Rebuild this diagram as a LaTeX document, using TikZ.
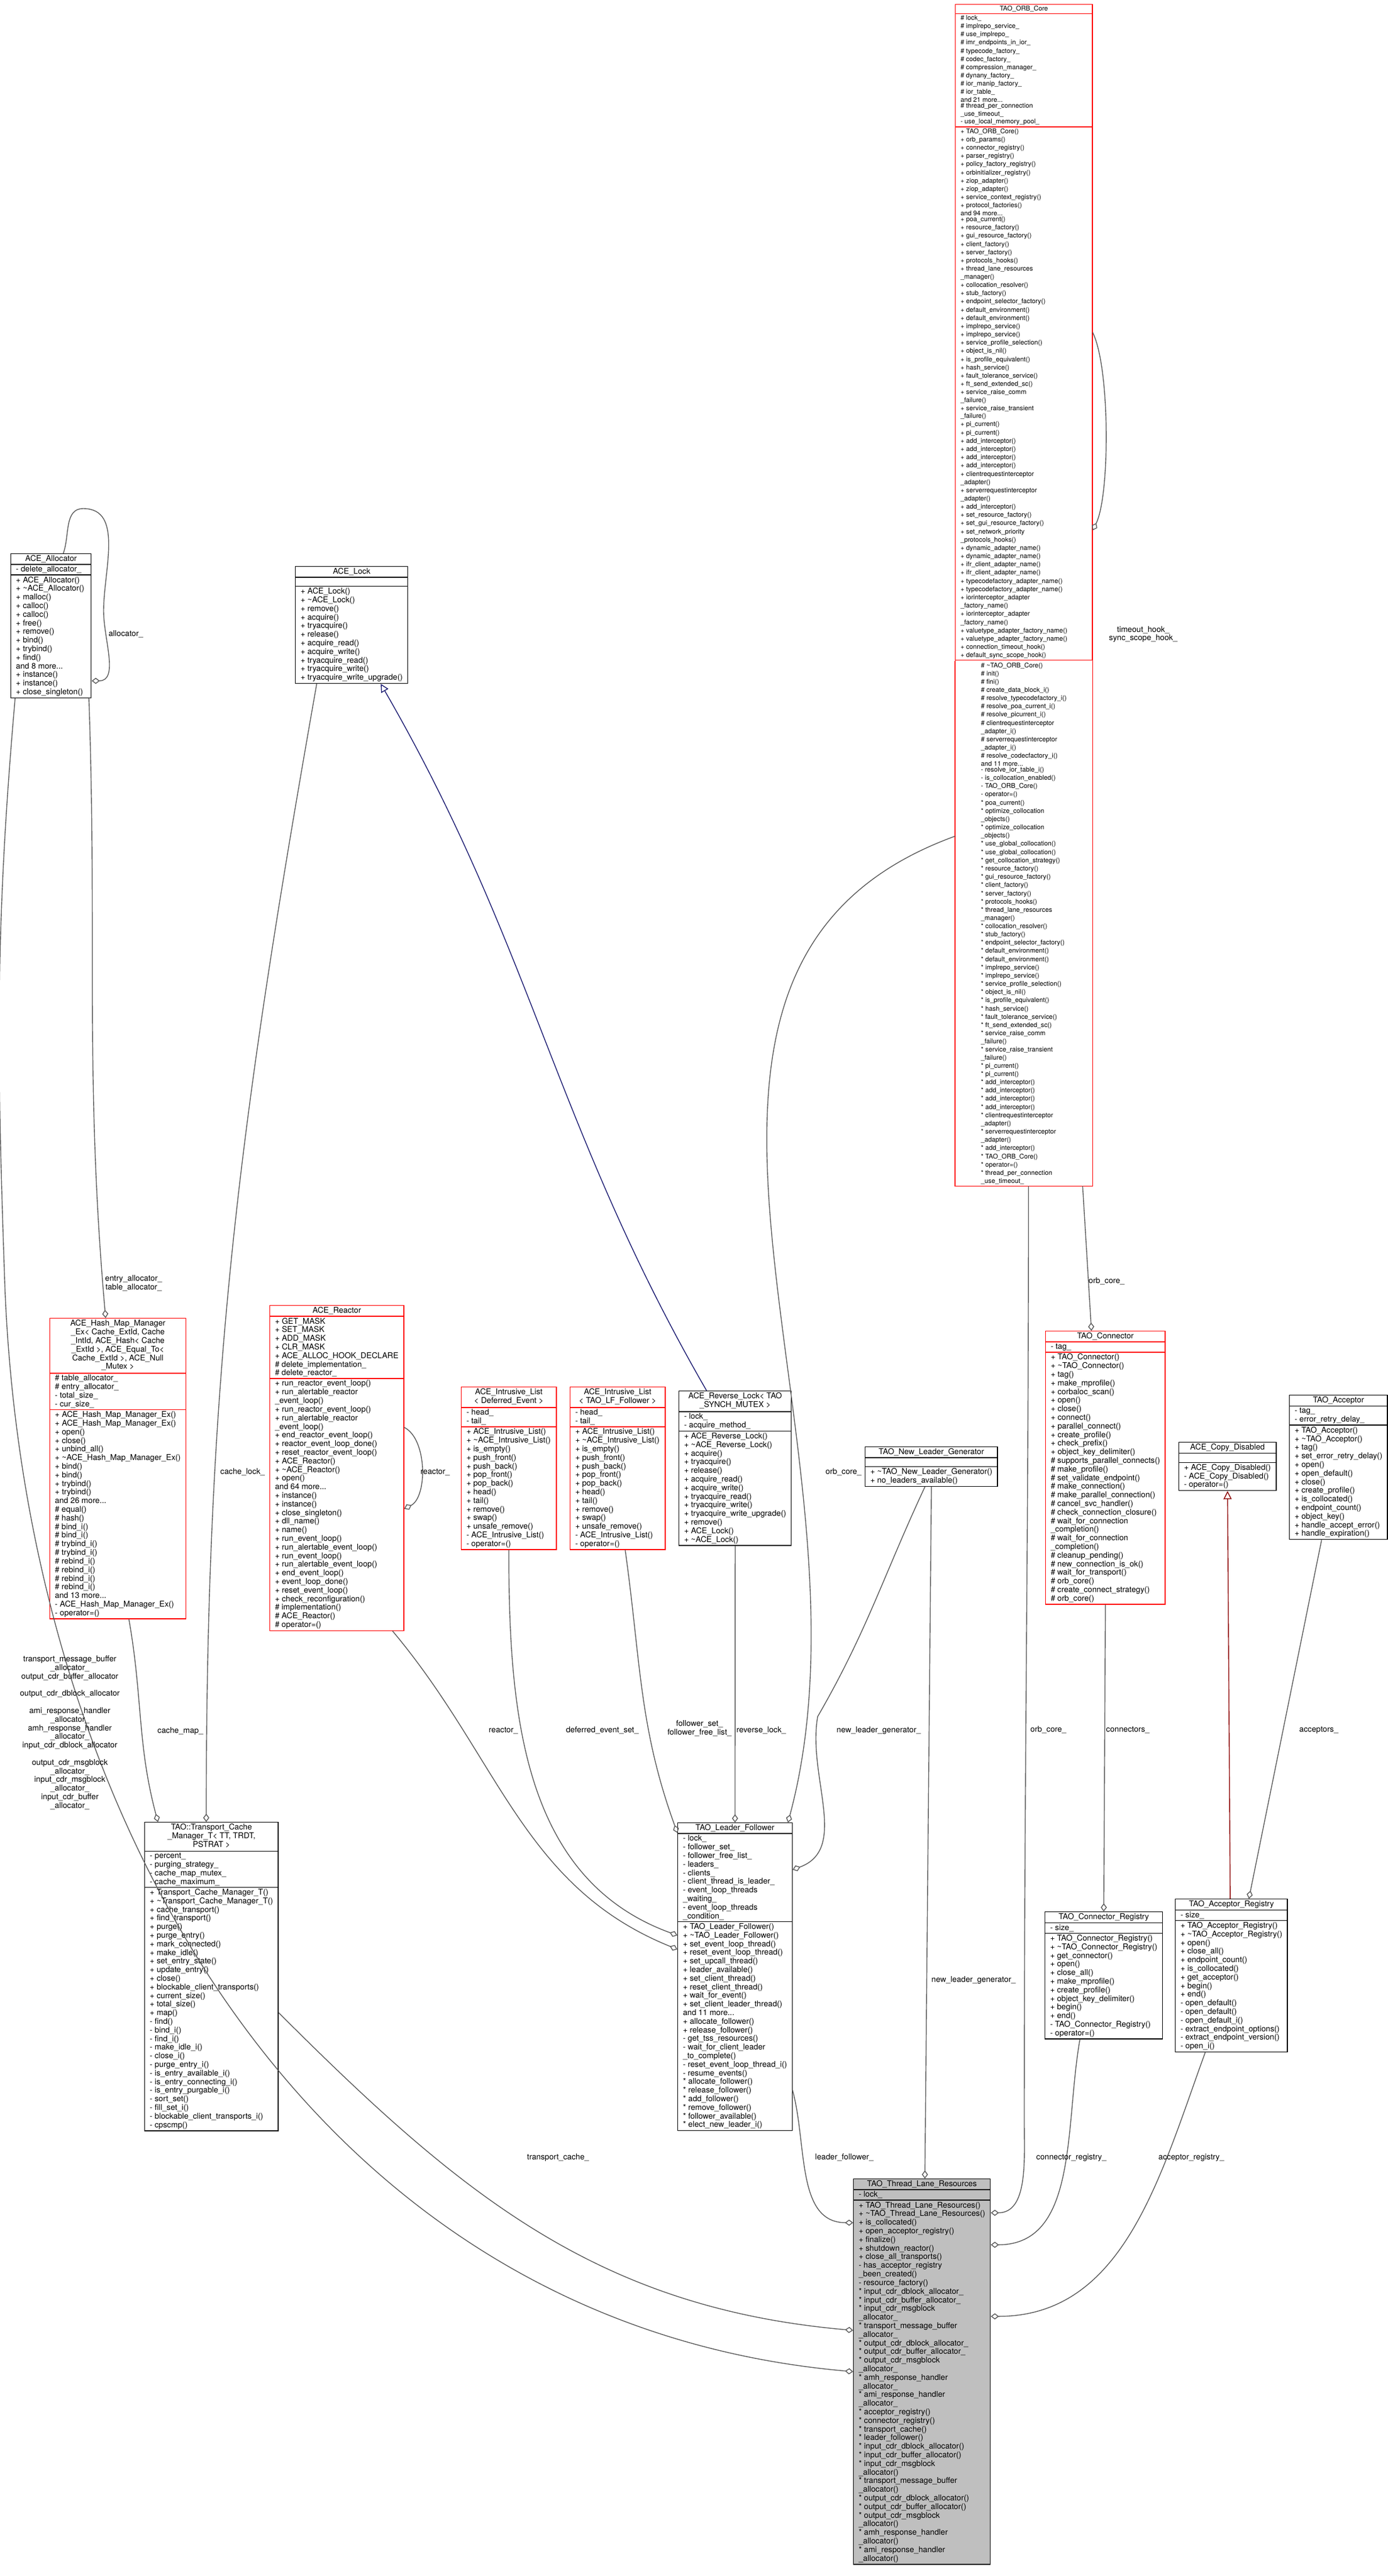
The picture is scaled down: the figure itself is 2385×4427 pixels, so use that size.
\documentclass[tikz,border=0pt]{standalone}
\usepackage{fontspec}
\setmainfont{TeX Gyre Heros}
\usetikzlibrary{arrows.meta,calc,shapes.multipart}
\newcommand{\dg}{\fontsize{3.9pt}{4.21pt}\selectfont}
\newcommand{\orbf}{\fontsize{3.2pt}{2.74pt}\selectfont}
\newcommand{\ctr}[1]{\begin{tabular}{@{}c@{}}#1\end{tabular}}
\newcommand{\tl}{\textasciitilde}
\definecolor{lanegray}{HTML}{BFBFBF}
\definecolor{inhblue}{HTML}{191970}
\definecolor{inhred}{HTML}{8B0000}

\begin{document}
\begin{tikzpicture}[x=0.01cm,y=-0.01cm,
    cls/.style={rectangle split,rectangle split parts=3,draw=black,fill=white,
      anchor=north west,align=left,inner xsep=2.5pt,inner ysep=0.6pt,
      rectangle split part align={center,left,left},font=\dg},
    trunc/.style={cls,draw=red},
    more/.style={anchor=north west,align=left,inner xsep=2.5pt,inner ysep=0.6pt,font=\dg},
    has/.style={draw=black!65,-{Diamond[open,length=4pt,width=3pt]}},
    inh/.style={draw=inhblue,-{Triangle[open,length=4pt,width=4pt]}},
    inhr/.style={draw=inhred,-{Triangle[open,length=4pt,width=4pt]}},
    lbl/.style={font=\dg,align=center,inner sep=0pt}]
  \useasboundingbox (0,0) rectangle (2385,4427);

  \node[cls,minimum width=1.38cm] (alloc) at (18,951) {ACE\_Allocator
    \nodepart{two}- delete\_allocator\_
    \nodepart{three}+ ACE\_Allocator()\\+ \tl ACE\_Allocator()\\+ malloc()\\+ calloc()\\+ calloc()\\+ free()\\+ remove()\\+ bind()\\+ trybind()\\+ find()\\and 8 more...\\+ instance()\\+ instance()\\+ close\_singleton()};

  \node[cls,minimum width=1.88cm] (lock) at (507,973) {ACE\_Lock
    \nodepart{two}\phantom{X}
    \nodepart{three}+ ACE\_Lock()\\+ \tl ACE\_Lock()\\+ remove()\\+ acquire()\\+ tryacquire()\\+ release()\\+ acquire\_read()\\+ acquire\_write()\\+ tryacquire\_read()\\+ tryacquire\_write()\\+ tryacquire\_write\_upgrade()};

  \node[trunc,font=\orbf,minimum width=2.35cm] (orbcore) at (1641,7) {TAO\_ORB\_Core
    \nodepart{two}\# lock\_\\\# implrepo\_service\_\\\# use\_implrepo\_\\\# imr\_endpoints\_in\_ior\_\\\# typecode\_factory\_\\\# codec\_factory\_\\\# compression\_manager\_\\\# dynany\_factory\_\\\# ior\_manip\_factory\_\\\# ior\_table\_\\and 21 more...\\\# thread\_per\_connection\\\_use\_timeout\_\\- use\_local\_memory\_pool\_
    \nodepart{three}+ TAO\_ORB\_Core()\\+ orb\_params()\\+ connector\_registry()\\+ parser\_registry()\\+ policy\_factory\_registry()\\+ orbinitializer\_registry()\\+ ziop\_adapter()\\+ ziop\_adapter()\\+ service\_context\_registry()\\+ protocol\_factories()\\and 94 more...\\+ poa\_current()\\+ resource\_factory()\\+ gui\_resource\_factory()\\+ client\_factory()\\+ server\_factory()\\+ protocols\_hooks()\\+ thread\_lane\_resources\\\_manager()\\+ collocation\_resolver()\\+ stub\_factory()\\+ endpoint\_selector\_factory()\\+ default\_environment()\\+ default\_environment()\\+ implrepo\_service()\\+ implrepo\_service()\\+ service\_profile\_selection()\\+ object\_is\_nil()\\+ is\_profile\_equivalent()\\+ hash\_service()\\+ fault\_tolerance\_service()\\+ ft\_send\_extended\_sc()\\+ service\_raise\_comm\\\_failure()\\+ service\_raise\_transient\\\_failure()\\+ pi\_current()\\+ pi\_current()\\+ add\_interceptor()\\+ add\_interceptor()\\+ add\_interceptor()\\+ add\_interceptor()\\+ clientrequestinterceptor\\\_adapter()\\+ serverrequestinterceptor\\\_adapter()\\+ add\_interceptor()\\+ set\_resource\_factory()\\+ set\_gui\_resource\_factory()\\+ set\_network\_priority\\\_protocols\_hooks()\\+ dynamic\_adapter\_name()\\+ dynamic\_adapter\_name()\\+ ifr\_client\_adapter\_name()\\+ ifr\_client\_adapter\_name()\\+ typecodefactory\_adapter\_name()\\+ typecodefactory\_adapter\_name()\\+ iorinterceptor\_adapter\\\_factory\_name()\\+ iorinterceptor\_adapter\\\_factory\_name()\\+ valuetype\_adapter\_factory\_name()\\+ valuetype\_adapter\_factory\_name()\\+ connection\_timeout\_hook()\\+ default\_sync\_scope\_hook()};
  \node[more,font=\orbf,minimum width=2.35cm] (orbmore) at (orbcore.south west) {\# \tl TAO\_ORB\_Core()\\\# init()\\\# fini()\\\# create\_data\_block\_i()\\\# resolve\_typecodefactory\_i()\\\# resolve\_poa\_current\_i()\\\# resolve\_picurrent\_i()\\\# clientrequestinterceptor\\\_adapter\_i()\\\# serverrequestinterceptor\\\_adapter\_i()\\\# resolve\_codecfactory\_i()\\and 11 more...\\- resolve\_ior\_table\_i()\\- is\_collocation\_enabled()\\- TAO\_ORB\_Core()\\- operator=()\\{*} poa\_current()\\{*} optimize\_collocation\\\_objects()\\{*} optimize\_collocation\\\_objects()\\{*} use\_global\_collocation()\\{*} use\_global\_collocation()\\{*} get\_collocation\_strategy()\\{*} resource\_factory()\\{*} gui\_resource\_factory()\\{*} client\_factory()\\{*} server\_factory()\\{*} protocols\_hooks()\\{*} thread\_lane\_resources\\\_manager()\\{*} collocation\_resolver()\\{*} stub\_factory()\\{*} endpoint\_selector\_factory()\\{*} default\_environment()\\{*} default\_environment()\\{*} implrepo\_service()\\{*} implrepo\_service()\\{*} service\_profile\_selection()\\{*} object\_is\_nil()\\{*} is\_profile\_equivalent()\\{*} hash\_service()\\{*} fault\_tolerance\_service()\\{*} ft\_send\_extended\_sc()\\{*} service\_raise\_comm\\\_failure()\\{*} service\_raise\_transient\\\_failure()\\{*} pi\_current()\\{*} pi\_current()\\{*} add\_interceptor()\\{*} add\_interceptor()\\{*} add\_interceptor()\\{*} add\_interceptor()\\{*} clientrequestinterceptor\\\_adapter()\\{*} serverrequestinterceptor\\\_adapter()\\{*} add\_interceptor()\\{*} TAO\_ORB\_Core()\\{*} operator=()\\{*} thread\_per\_connection\\\_use\_timeout\_};
  \fill[white] ($(orbcore.south west)+(1,-1)$) rectangle ($(orbcore.south east)+(-1,1)$);
  \draw[red] (orbmore.north west) |- (orbmore.south east) -- (orbmore.north east);

  \node[trunc,minimum width=2.28cm] (hashmap) at (85,2265) {\ctr{ACE\_Hash\_Map\_Manager\\\_Ex< Cache\_ExtId, Cache\\\_IntId, ACE\_Hash< Cache\\\_ExtId >, ACE\_Equal\_To<\\ Cache\_ExtId >, ACE\_Null\\\_Mutex >}
    \nodepart{two}\# table\_allocator\_\\\# entry\_allocator\_\\- total\_size\_\\- cur\_size\_
    \nodepart{three}+ ACE\_Hash\_Map\_Manager\_Ex()\\+ ACE\_Hash\_Map\_Manager\_Ex()\\+ open()\\+ close()\\+ unbind\_all()\\+ \tl ACE\_Hash\_Map\_Manager\_Ex()\\+ bind()\\+ bind()\\+ trybind()\\+ trybind()\\and 26 more...\\\# equal()\\\# hash()\\\# bind\_i()\\\# bind\_i()\\\# trybind\_i()\\\# trybind\_i()\\\# rebind\_i()\\\# rebind\_i()\\\# rebind\_i()\\\# rebind\_i()\\and 13 more...\\- ACE\_Hash\_Map\_Manager\_Ex()\\- operator=()};

  \node[trunc,minimum width=2.30cm] (reactor) at (463,2243) {ACE\_Reactor
    \nodepart{two}+ GET\_MASK\\+ SET\_MASK\\+ ADD\_MASK\\+ CLR\_MASK\\+ ACE\_ALLOC\_HOOK\_DECLARE\\\# delete\_implementation\_\\\# delete\_reactor\_
    \nodepart{three}+ run\_reactor\_event\_loop()\\+ run\_alertable\_reactor\\\_event\_loop()\\+ run\_reactor\_event\_loop()\\+ run\_alertable\_reactor\\\_event\_loop()\\+ end\_reactor\_event\_loop()\\+ reactor\_event\_loop\_done()\\+ reset\_reactor\_event\_loop()\\+ ACE\_Reactor()\\+ \tl ACE\_Reactor()\\+ open()\\and 64 more...\\+ instance()\\+ instance()\\+ close\_singleton()\\+ dll\_name()\\+ name()\\+ run\_event\_loop()\\+ run\_alertable\_event\_loop()\\+ run\_event\_loop()\\+ run\_alertable\_event\_loop()\\+ end\_event\_loop()\\+ event\_loop\_done()\\+ reset\_event\_loop()\\+ check\_reconfiguration()\\\# implementation()\\\# ACE\_Reactor()\\\# operator=()};

  \node[trunc,minimum width=1.63cm] (deflist) at (792,2383) {\ctr{ACE\_Intrusive\_List\\< Deferred\_Event >}
    \nodepart{two}- head\_\\- tail\_
    \nodepart{three}+ ACE\_Intrusive\_List()\\+ \tl ACE\_Intrusive\_List()\\+ is\_empty()\\+ push\_front()\\+ push\_back()\\+ pop\_front()\\+ pop\_back()\\+ head()\\+ tail()\\+ remove()\\+ swap()\\+ unsafe\_remove()\\- ACE\_Intrusive\_List()\\- operator=()};

  \node[trunc,minimum width=1.63cm] (lflist) at (979,2383) {\ctr{ACE\_Intrusive\_List\\< TAO\_LF\_Follower >}
    \nodepart{two}- head\_\\- tail\_
    \nodepart{three}+ ACE\_Intrusive\_List()\\+ \tl ACE\_Intrusive\_List()\\+ is\_empty()\\+ push\_front()\\+ push\_back()\\+ pop\_front()\\+ pop\_back()\\+ head()\\+ tail()\\+ remove()\\+ swap()\\+ unsafe\_remove()\\- ACE\_Intrusive\_List()\\- operator=()};

  \node[cls,minimum width=1.86cm] (revlock) at (1166,2390) {\ctr{ACE\_Reverse\_Lock< TAO\\\_SYNCH\_MUTEX >}
    \nodepart{two}- lock\_\\- acquire\_method\_
    \nodepart{three}+ ACE\_Reverse\_Lock()\\+ \tl ACE\_Reverse\_Lock()\\+ acquire()\\+ tryacquire()\\+ release()\\+ acquire\_read()\\+ acquire\_write()\\+ tryacquire\_read()\\+ tryacquire\_write()\\+ tryacquire\_write\_upgrade()\\+ remove()\\+ ACE\_Lock()\\+ \tl ACE\_Lock()};

  \node[cls,minimum width=2.21cm] (nlg) at (1486,2486) {TAO\_New\_Leader\_Generator
    \nodepart{two}\phantom{X}
    \nodepart{three}+ \tl TAO\_New\_Leader\_Generator()\\+ no\_leaders\_available()};

  \node[trunc,minimum width=1.99cm] (connector) at (1796,2287) {TAO\_Connector
    \nodepart{two}- tag\_
    \nodepart{three}+ TAO\_Connector()\\+ \tl TAO\_Connector()\\+ tag()\\+ make\_mprofile()\\+ corbaloc\_scan()\\+ open()\\+ close()\\+ connect()\\+ parallel\_connect()\\+ create\_profile()\\+ check\_prefix()\\+ object\_key\_delimiter()\\\# supports\_parallel\_connects()\\\# make\_profile()\\\# set\_validate\_endpoint()\\\# make\_connection()\\\# make\_parallel\_connection()\\\# cancel\_svc\_handler()\\\# check\_connection\_closure()\\\# wait\_for\_connection\\\_completion()\\\# wait\_for\_connection\\\_completion()\\\# cleanup\_pending()\\\# new\_connection\_is\_ok()\\\# wait\_for\_transport()\\\# orb\_core()\\\# create\_connect\_strategy()\\\# orb\_core()};

  \node[cls,minimum width=1.67cm] (copydis) at (2025,2478) {ACE\_Copy\_Disabled
    \nodepart{two}\phantom{X}
    \nodepart{three}+ ACE\_Copy\_Disabled()\\- ACE\_Copy\_Disabled()\\- operator=()};

  \node[cls,minimum width=1.65cm] (acceptor) at (2215,2397) {TAO\_Acceptor
    \nodepart{two}- tag\_\\- error\_retry\_delay\_
    \nodepart{three}+ TAO\_Acceptor()\\+ \tl TAO\_Acceptor()\\+ tag()\\+ set\_error\_retry\_delay()\\+ open()\\+ open\_default()\\+ close()\\+ create\_profile()\\+ is\_collocated()\\+ endpoint\_count()\\+ object\_key()\\+ handle\_accept\_error()\\+ handle\_expiration()};

  \node[cls,minimum width=2.25cm] (tcm) at (248,3131) {\ctr{TAO::Transport\_Cache\\\_Manager\_T< TT, TRDT,\\ PSTRAT >}
    \nodepart{two}- percent\_\\- purging\_strategy\_\\- cache\_map\_mutex\_\\- cache\_maximum\_
    \nodepart{three}+ Transport\_Cache\_Manager\_T()\\+ \tl Transport\_Cache\_Manager\_T()\\+ cache\_transport()\\+ find\_transport()\\+ purge()\\+ purge\_entry()\\+ mark\_connected()\\+ make\_idle()\\+ set\_entry\_state()\\+ update\_entry()\\+ close()\\+ blockable\_client\_transports()\\+ current\_size()\\+ total\_size()\\+ map()\\- find()\\- bind\_i()\\- find\_i()\\- make\_idle\_i()\\- close\_i()\\- purge\_entry\_i()\\- is\_entry\_available\_i()\\- is\_entry\_connecting\_i()\\- is\_entry\_purgable\_i()\\- sort\_set()\\- fill\_set\_i()\\- blockable\_client\_transports\_i()\\- cpscmp()};

  \node[cls,minimum width=1.91cm] (lf) at (1164,3132) {TAO\_Leader\_Follower
    \nodepart{two}- lock\_\\- follower\_set\_\\- follower\_free\_list\_\\- leaders\_\\- clients\_\\- client\_thread\_is\_leader\_\\- event\_loop\_threads\\\_waiting\_\\- event\_loop\_threads\\\_condition\_
    \nodepart{three}+ TAO\_Leader\_Follower()\\+ \tl TAO\_Leader\_Follower()\\+ set\_event\_loop\_thread()\\+ reset\_event\_loop\_thread()\\+ set\_upcall\_thread()\\+ leader\_available()\\+ set\_client\_thread()\\+ reset\_client\_thread()\\+ wait\_for\_event()\\+ set\_client\_leader\_thread()\\and 11 more...\\+ allocate\_follower()\\+ release\_follower()\\- get\_tss\_resources()\\- wait\_for\_client\_leader\\\_to\_complete()\\- reset\_event\_loop\_thread\_i()\\- resume\_events()\\{*} allocate\_follower()\\{*} release\_follower()\\{*} add\_follower()\\{*} remove\_follower()\\{*} follower\_available()\\{*} elect\_new\_leader\_i()};

  \node[cls,minimum width=2.00cm] (connreg) at (1795,3285) {TAO\_Connector\_Registry
    \nodepart{two}- size\_
    \nodepart{three}+ TAO\_Connector\_Registry()\\+ \tl TAO\_Connector\_Registry()\\+ get\_connector()\\+ open()\\+ close\_all()\\+ make\_mprofile()\\+ create\_profile()\\+ object\_key\_delimiter()\\+ begin()\\+ end()\\- TAO\_Connector\_Registry()\\- operator=()};

  \node[cls,minimum width=1.92cm] (accreg) at (2019,3263) {TAO\_Acceptor\_Registry
    \nodepart{two}- size\_
    \nodepart{three}+ TAO\_Acceptor\_Registry()\\+ \tl TAO\_Acceptor\_Registry()\\+ open()\\+ close\_all()\\+ endpoint\_count()\\+ is\_collocated()\\+ get\_acceptor()\\+ begin()\\+ end()\\- open\_default()\\- open\_default()\\- open\_default\_i()\\- extract\_endpoint\_options()\\- extract\_endpoint\_version()\\- open\_i()};

  \node[cls,fill=lanegray,minimum width=2.30cm] (tlr) at (1466,3744) {TAO\_Thread\_Lane\_Resources
    \nodepart{two}- lock\_
    \nodepart{three}+ TAO\_Thread\_Lane\_Resources()\\+ \tl TAO\_Thread\_Lane\_Resources()\\+ is\_collocated()\\+ open\_acceptor\_registry()\\+ finalize()\\+ shutdown\_reactor()\\+ close\_all\_transports()\\- has\_acceptor\_registry\\\_been\_created()\\- resource\_factory()\\{*} input\_cdr\_dblock\_allocator\_\\{*} input\_cdr\_buffer\_allocator\_\\{*} input\_cdr\_msgblock\\\_allocator\_\\{*} transport\_message\_buffer\\\_allocator\_\\{*} output\_cdr\_dblock\_allocator\_\\{*} output\_cdr\_buffer\_allocator\_\\{*} output\_cdr\_msgblock\\\_allocator\_\\{*} amh\_response\_handler\\\_allocator\_\\{*} ami\_response\_handler\\\_allocator\_\\{*} acceptor\_registry()\\{*} connector\_registry()\\{*} transport\_cache()\\{*} leader\_follower()\\{*} input\_cdr\_dblock\_allocator()\\{*} input\_cdr\_buffer\_allocator()\\{*} input\_cdr\_msgblock\\\_allocator()\\{*} transport\_message\_buffer\\\_allocator()\\{*} output\_cdr\_dblock\_allocator()\\{*} output\_cdr\_buffer\_allocator()\\{*} output\_cdr\_msgblock\\\_allocator()\\{*} amh\_response\_handler\\\_allocator()\\{*} ami\_response\_handler\\\_allocator()};

  % allocator links
  \draw[has] ($(alloc.north)+(21,0)$) to[out=70,in=180] (143,874) to[out=0,in=90] (178,1050)
    to[out=-90,in=0] ($(alloc.south east)+(0,-30)$);
  \node[lbl,anchor=west] at (186,1090) {allocator\_};
  \draw[has] ($(alloc.south)+(65,0)$) to[out=-88,in=95] ($(hashmap.north)+(-21,0)$);
  \node[lbl,anchor=west] at (180,2205) {entry\_allocator\_\\table\_allocator\_};
  \draw[has] ($(alloc.south west)+(8,0)$) to[out=-95,in=92] (8,2200) to[out=-88,in=175] (tlr.west);
  \node[lbl,anchor=north] at (120,2845) {transport\_message\_buffer\\\_allocator\_\\output\_cdr\_buffer\_allocator\\[4.2pt]output\_cdr\_dblock\_allocator\\[4.2pt]ami\_response\_handler\\\_allocator\_\\amh\_response\_handler\\\_allocator\_\\input\_cdr\_dblock\_allocator\\[4.2pt]output\_cdr\_msgblock\\\_allocator\_\\input\_cdr\_msgblock\\\_allocator\_\\input\_cdr\_buffer\\\_allocator\_};

  % cache manager
  \draw[has] ($(hashmap.south)+(19,0)$) to[out=-80,in=105] ($(tcm.north)+(-92,0)$);
  \node[lbl,anchor=west] at (270,2975) {cache\_map\_};
  \draw[has] ($(lock.south)+(-60,0)$) to[out=-100,in=90] ($(tcm.north)+(-9,0)$);
  \node[lbl,anchor=west] at (378,2530) {cache\_lock\_};

  % leader follower
  \draw[inh] ($(revlock.north)+(-49,0)$) to[out=120,in=-60] ($(lock.south)+(50,0)$);
  \draw[has] (revlock.south) -- (lf.north);
  \node[lbl,anchor=west] at (1265,2974) {reverse\_lock\_};
  \draw[has] ($(lflist.south)+(13,0)$) to[out=-82,in=110] ($(lf.north west)+(0,18)$);
  \node[lbl] at (1202,2970) {follower\_set\_\\follower\_free\_list\_};
  \draw[has] (deflist.south) to[out=-90,in=160] ($(lf.north west)+(0,194)$);
  \node[lbl] at (1035,2974) {deferred\_event\_set\_};
  \draw[has] ($(reactor.south east)+(-20,0)$) to[out=-50,in=158] ($(lf.north west)+(0,218)$);
  \node[lbl] at (865,2974) {reactor\_};
  \draw[has] ($(reactor.east)+(0,-70)$) .. controls +(40,20) and +(40,-20) .. ($(reactor.east)+(0,70)$);
  \node[lbl,anchor=west] at (722,2530) {reactor\_};
  \draw[has] ($(orbmore.west)+(0,-150)$) to[out=200,in=75] ($(lf.north east)+(-8,0)$);
  \node[lbl,anchor=west] at (1418,2530) {orb\_core\_};
  \draw[has] ($(nlg.south)+(-11,0)$) to[out=-115,in=60] (1405,2950) to[out=-100,in=20] ($(lf.east)+(0,-184)$);
  \node[lbl,anchor=west] at (1437,2974) {new\_leader\_generator\_};

  % orb core
  \draw[has] ($(orbcore.east)+(0,0)$) .. controls +(30,60) and +(30,-60) .. ($(orbcore.east)+(0,340)$);
  \node[lbl,anchor=west] at (1905,1090) {timeout\_hook\_\\sync\_scope\_hook\_};
  \draw[has] ($(orbmore.south)+(101,0)$) -- ($(connector.north)+(-24,0)$);
  \node[lbl,anchor=west] at (1870,2202) {orb\_core\_};

  % registries
  \draw[has] (connector.south) -- (connreg.north);
  \node[lbl,anchor=west] at (1900,2973) {connectors\_};
  \draw[has] ($(acceptor.south)+(-29,0)$) -- ($(accreg.north)+(30,0)$);
  \node[lbl,anchor=west] at (2232,2973) {acceptors\_};
  \draw[inhr] ($(accreg.north)+(-2,0)$) -- (copydis.south);

  % thread lane resources
  \draw[has] ($(orbmore.south)+(8,0)$) to[out=-90,in=90] (1760,3650) to[out=-90,in=0] ($(tlr.east)+(0,-273)$);
  \node[lbl,anchor=west] at (1770,2973) {orb\_core\_};
  \draw[has] (nlg.south) -- ($(tlr.north)+(5,0)$);
  \node[lbl,anchor=west] at (1600,3403) {new\_leader\_generator\_};
  \draw[has] ($(connreg.south)+(-41,0)$) to[out=-100,in=0] ($(tlr.east)+(0,-218)$);
  \node[lbl,anchor=west] at (1780,3708) {connector\_registry\_};
  \draw[has] ($(accreg.south)+(-45,0)$) to[out=-110,in=0] ($(tlr.east)+(0,-95)$);
  \node[lbl,anchor=west] at (1990,3708) {acceptor\_registry\_};
  \draw[has] ($(lf.south east)+(0,-70)$) to[out=-75,in=180] ($(tlr.west)+(0,-256)$);
  \node[lbl,anchor=west] at (1400,3708) {leader\_follower\_};
  \draw[has] ($(tcm.east)+(0,62)$) to[out=-45,in=175] ($(tlr.west)+(0,-71)$);
  \node[lbl,anchor=west] at (905,3708) {transport\_cache\_};
\end{tikzpicture}
\end{document}
